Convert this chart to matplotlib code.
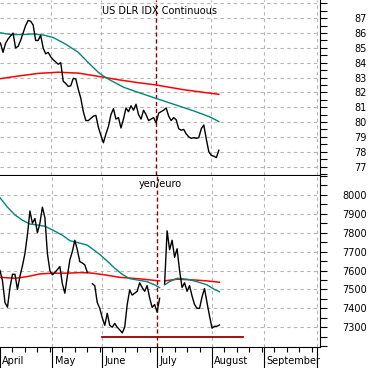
import matplotlib.pyplot as plt
import numpy as np

# trading days counted from 1 April (day 0)
days = np.arange(89)

dlr = [85.5, 85.31, 84.7, 85.3, 85.6, 85.8, 86.0, 85.0, 85.1, 85.5,
       86.0, 86.5, 86.85, 86.8, 86.55, 85.5, 85.5, 85.85, 85.0, 84.6,
       84.7, 84.4, 84.2, 84.05, 83.9, 84.0, 82.75, 82.6, 82.4, 82.45,
       82.95, 82.9, 82.2, 81.6, 80.7, 80.1, 80.1, 80.25, 80.4, 80.45,
       79.65, 79.1, 78.6, 79.2, 79.7, 80.5, 80.9, 80.2, 80.3, 79.6,
       80.2, 80.95, 80.7, 81.1, 80.8, 81.2, 80.5, 80.2, 80.8, 80.5,
       80.1, 80.2, 80.3, 79.95, 80.6, 80.7, 80.8, 80.95, 80.4, 80.1,
       80.3, 80.15, 79.55, 79.45, 79.5, 79.2, 79.0, 78.9, 78.95, 78.9,
       78.95, 79.55, 79.8, 78.85, 78.0, 77.75, 77.7, 77.6, 78.1]

nan = np.nan
yen_euro = [7600, 7545, 7430, 7406, 7510, 7580, 7580, 7500, 7570, 7625,
            7690, 7790, 7915, 7850, 7875, 7800, 7850, 7935, 7880, 7690,
            7600, 7577, 7590, 7605, 7621, 7530, 7480, 7570, 7656, 7700,
            7760, 7710, 7647, 7640, 7630, 7590, nan, 7530, 7520, 7430,
            7400, 7350, 7310, 7374, 7310, 7300, 7320, 7300, 7286, 7270,
            7300, 7420, 7497, 7470, 7480, 7490, 7535, 7510, 7490, 7520,
            7455, 7405, 7420, 7380, 7453, nan, 7530, 7810, 7710, 7760,
            7670, 7715, 7600, 7510, 7535, 7490, 7520, 7465, 7420, 7400,
            7400, 7460, 7505, 7430, 7360, 7295, 7305, 7305, 7312]

# moving averages
dlr_ma_fast_days = [0, 5, 10, 14, 18, 22, 27, 32, 36, 40, 42, 45, 50, 55, 62, 70, 78, 82, 85, 88]
dlr_ma_fast = [86.05, 85.9, 85.9, 85.94, 85.87, 85.7, 85.25, 84.7, 84.0, 83.35,
               83.1, 82.8, 82.35, 82.05, 81.65, 81.2, 80.75, 80.5, 80.3, 80.03]
dlr_ma_slow_days = [0, 8, 16, 24, 32, 40, 48, 56, 63, 74, 82, 88]
dlr_ma_slow = [82.9, 83.1, 83.28, 83.36, 83.3, 83.08, 82.85, 82.65, 82.5, 82.18, 82.0, 81.87]

ye_ma_fast_days = [0, 3, 6, 9, 12, 15, 18, 21, 25, 28, 31, 34, 35, 37, 40, 43, 46, 49, 52,
                   55, 59, 62, 64, 65, 66, 68, 71, 75, 79, 83, 86, 88]
ye_ma_fast = [7985, 7935, 7894, 7866, 7846, 7841, 7834, 7815, 7787, 7758, 7748, 7738, 7734,
              7715, 7685, 7650, 7612, 7580, 7557, 7550, 7541, 7524, 7510, nan, 7524, 7541,
              7559, 7554, 7541, 7524, 7500, 7488]
ye_ma_slow_days = [0, 6, 11, 16, 21, 27, 32, 35, 37, 42, 48, 56, 64, 65, 66, 71, 78, 83, 88]
ye_ma_slow = [7564, 7559, 7568, 7582, 7586, 7586, 7589, 7588, 7586, 7577, 7564, 7556, 7545,
              nan, 7545, 7554, 7550, 7545, 7538]

support_level = 7250
support_days = [41, 97.5]

month_starts = [0, 21, 41, 63, 85, 106, 127]
month_names = ['April', 'May', 'June', 'July', 'August', 'September']
marker_day = 63

teal = '#00877a'
red = '#ff0000'
dark_red = '#8b0000'
grid_kw = dict(color='#b4b4b4', linestyle=(0, (3, 3)), linewidth=0.8)

plt.rcParams['font.family'] = 'DejaVu Sans'
fig = plt.figure(figsize=(3.71, 3.68), dpi=100)
ax1 = fig.add_axes([0, 0.5245, 320 / 371, 0.4755])
ax2 = fig.add_axes([0, 0.0579, 320 / 371, 0.4638])

for ax in (ax1, ax2):
    ax.set_xlim(0.8, 128.3)
    ax.spines['left'].set_visible(False)
    ax.spines['top'].set_visible(False)
    ax.yaxis.tick_right()
    ax.tick_params(axis='y', which='both', direction='out', length=5, width=0.8,
                   pad=28.8, labelsize=7)
    for lab in ax.get_yticklabels():
        lab.set_horizontalalignment('right')
    for m in month_starts[1:]:
        if m != marker_day:
            ax.axvline(m, **grid_kw, zorder=0)
    ax.axvline(marker_day, color=dark_red, linestyle=(0, (3, 2)), linewidth=1, zorder=1)

# top panel
ax1.set_ylim(76.43, 88.23)
ax1.set_yticks(range(77, 88))
ax1.set_yticks(np.arange(76.5, 88.5, 0.5), minor=True)
for v in range(77, 89):
    ax1.axhline(v, **grid_kw, zorder=0)
ax1.plot(dlr_ma_slow_days, dlr_ma_slow, color=red, linewidth=1.1)
ax1.plot(dlr_ma_fast_days, dlr_ma_fast, color=teal, linewidth=1)
ax1.plot(days, dlr, color='black', linewidth=1)
ax1.set_xticks([])
ax1.text(0.5, 0.937, 'US DLR IDX Continuous', transform=ax1.transAxes,
         ha='center', va='center', fontsize=7)
for lab in ax1.get_yticklabels():
    lab.set_horizontalalignment('right')

# bottom panel
ax2.set_ylim(7197, 8100)
ax2.set_yticks(range(7300, 8100, 100))
ax2.set_yticks(range(7200, 8101, 50), minor=True)
for v in range(7300, 8100, 100):
    ax2.axhline(v, **grid_kw, zorder=0)
ax2.plot(ye_ma_slow_days, ye_ma_slow, color=red, linewidth=1.1)
ax2.plot(ye_ma_fast_days, ye_ma_fast, color=teal, linewidth=1)
ax2.plot(days, yen_euro, color='black', linewidth=1)
ax2.plot(support_days, [support_level, support_level], color='#990000', linewidth=1.3)
ax2.text(0.5, 0.951, 'yen/euro', transform=ax2.transAxes,
         ha='center', va='center', fontsize=7)
for lab in ax2.get_yticklabels():
    lab.set_horizontalalignment('right')

ax2.set_xticks(month_starts)
ax2.set_xticklabels([])
ax2.set_xticks(np.arange(5, 128, 5), minor=True)
ax2.tick_params(axis='x', which='major', direction='out', length=16, width=0.8)
ax2.tick_params(axis='x', which='minor', direction='out', length=3.6, width=0.8)
for m, name in zip(month_starts, month_names):
    ax2.text(m + 0.9, -0.084, name, transform=ax2.get_xaxis_transform(),
             ha='left', va='center', fontsize=7)

fig.savefig('out.png', dpi=100)
